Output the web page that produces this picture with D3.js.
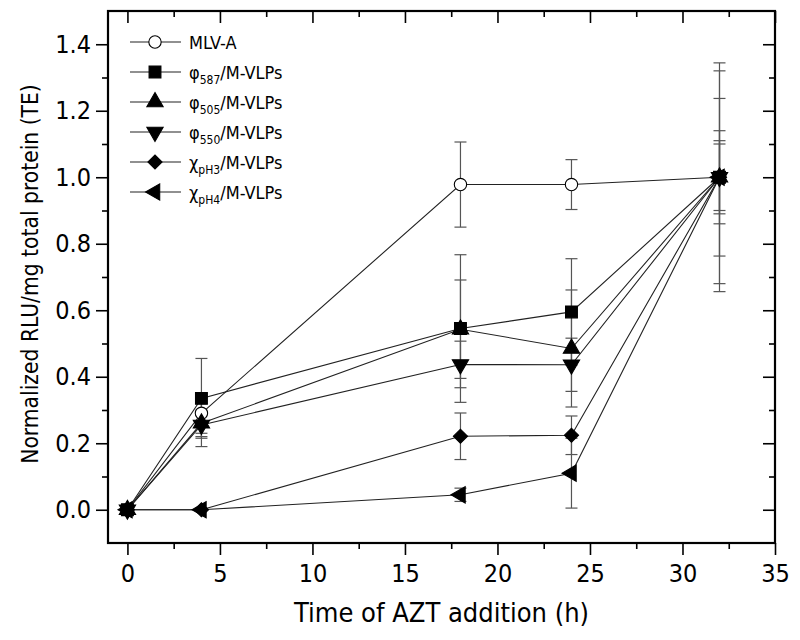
<!DOCTYPE html>
<html>
<head>
<meta charset="utf-8">
<script src="https://cdn.jsdelivr.net/npm/d3@7"></script>
<style>
  html, body { margin: 0; padding: 0; background: #fff; }
  svg { display: block; font-family: "DejaVu Sans Condensed", "DejaVu Sans", sans-serif; font-stretch: condensed; }
</style>
</head>
<body>
<svg id="chart" width="800" height="640"></svg>
<script>
// ---- data ----
const times = [0, 4, 18, 24, 32];
const xTicks = [0, 5, 10, 15, 20, 25, 30, 35];
const yTicks = [0, 0.2, 0.4, 0.6, 0.8, 1.0, 1.2, 1.4];

const mlvA      = [0, 0.290, 0.978, 0.978, 1.0];
const mlvAErr   = [0, 0.060, 0.128, 0.075, 0.344];
const phi587    = [0, 0.335, 0.545, 0.595, 1.0];
const phi587Err = [0, 0.120, 0.222, 0.160, 0.237];
const phi505    = [0, 0.260, 0.543, 0.485, 1.0];
const phi505Err = [0, 0.040, 0.148, 0.176, 0.320];
const phi550    = [0, 0.255, 0.437, 0.436, 1.0];
const phi550Err = [0, 0.065, 0.070, 0.080, 0.140];
const chiPH3    = [0, 0, 0.221, 0.224, 1.0];
const chiPH3Err = [0, 0, 0.070, 0.058, 0.110];
const chiPH4    = [0, 0, 0.045, 0.110, 1.0];
const chiPH4Err = [0, 0, 0.020, 0.105, 0.100];

const seriesSymbols = ["circle", "square", "triUp", "triDown", "diamond", "triLeft"];
const seriesLabels = [
  {base: "MLV-A", sub: "", rest: ""},
  {base: "φ", sub: "587", rest: "/M-VLPs"},
  {base: "φ", sub: "505", rest: "/M-VLPs"},
  {base: "φ", sub: "550", rest: "/M-VLPs"},
  {base: "χ", sub: "pH3", rest: "/M-VLPs"},
  {base: "χ", sub: "pH4", rest: "/M-VLPs"}
];
const seriesValues = [mlvA, phi587, phi505, phi550, chiPH3, chiPH4];
const seriesErrors = [mlvAErr, phi587Err, phi505Err, phi550Err, chiPH3Err, chiPH4Err];

// ---- layout ----
const FONT = '"DejaVu Sans Condensed", "DejaVu Sans", sans-serif';
const svg = d3.select("#chart");
const L = 108, R = 775, T = 11, B = 543;
const x = d3.scaleLinear().domain([-1.05, 35]).range([L, R]);
const y = d3.scaleLinear().domain([-0.1, 1.5]).range([B, T]);

const series = seriesValues.map((vals, i) => ({
  symbol: seriesSymbols[i],
  label: seriesLabels[i],
  points: times.map((t, j) => ({t, v: vals[j], e: seriesErrors[i][j]}))
}));

function symbolPath(kind) {
  switch (kind) {
    case "circle": return {d: d3.symbol(d3.symbolCircle, 120)(), rot: 0, fill: "#fff"};
    case "square": return {d: d3.symbol(d3.symbolSquare, 140)(), rot: 0, fill: "#000"};
    case "triUp": return {d: d3.symbol(d3.symbolTriangle, 115)(), rot: 0, fill: "#000"};
    case "triDown": return {d: d3.symbol(d3.symbolTriangle, 115)(), rot: 180, fill: "#000"};
    case "diamond": return {d: d3.symbol(d3.symbolSquare, 100)(), rot: 45, fill: "#000"};
    case "triLeft": return {d: d3.symbol(d3.symbolTriangle, 115)(), rot: -90, fill: "#000"};
  }
}

// ---- axes ----
const major = 12, minor = 6;
const xMinor = d3.range(2.5, 35, 5);
const yMinor = d3.range(0.1, 1.5, 0.2);

function styleAxis(g) {
  g.select(".domain").remove();
  g.selectAll(".tick line").attr("stroke", "#000").attr("stroke-width", 1.6);
  g.selectAll(".tick text").attr("fill", "#000").attr("font-size", 25)
    .attr("font-family", FONT).style("font-stretch", "condensed");
}

svg.append("g").attr("transform", `translate(0,${B})`)
  .call(d3.axisBottom(x).tickValues(xTicks).tickSize(major).tickPadding(9).tickFormat(d3.format("d")))
  .call(styleAxis);
svg.append("g").attr("transform", `translate(0,${B})`)
  .call(d3.axisBottom(x).tickValues(xMinor).tickSize(minor).tickFormat(""))
  .call(styleAxis);
svg.append("g").attr("transform", `translate(0,${T})`)
  .call(d3.axisTop(x).tickValues(xTicks).tickSize(-major).tickFormat(""))
  .call(styleAxis);
svg.append("g").attr("transform", `translate(0,${T})`)
  .call(d3.axisTop(x).tickValues(xMinor).tickSize(-minor).tickFormat(""))
  .call(styleAxis);

svg.append("g").attr("transform", `translate(${L},0)`)
  .call(d3.axisLeft(y).tickValues(yTicks).tickSize(major).tickPadding(5).tickFormat(d3.format(".1f")))
  .call(styleAxis);
svg.append("g").attr("transform", `translate(${L},0)`)
  .call(d3.axisLeft(y).tickValues(yMinor).tickSize(minor).tickFormat(""))
  .call(styleAxis);
svg.append("g").attr("transform", `translate(${R},0)`)
  .call(d3.axisRight(y).tickValues(yTicks).tickSize(-major).tickFormat(""))
  .call(styleAxis);
svg.append("g").attr("transform", `translate(${R},0)`)
  .call(d3.axisRight(y).tickValues(yMinor).tickSize(-minor).tickFormat(""))
  .call(styleAxis);

svg.append("rect").attr("x", L).attr("y", T).attr("width", R - L).attr("height", B - T)
  .attr("fill", "none").attr("stroke", "#000").attr("stroke-width", 2.2);

// axis titles
svg.append("text").attr("x", (L + R) / 2).attr("y", 622).attr("text-anchor", "middle")
  .attr("font-size", 27).attr("fill", "#000").text("Time of AZT addition (h)");
svg.append("text").attr("transform", `translate(38,274) rotate(-90)`)
  .attr("text-anchor", "middle").attr("font-size", 22.6).attr("fill", "#000")
  .text("Normalized RLU/mg total protein (TE)");

// ---- error bars ----
const cap = 6;
const eb = svg.append("g").attr("stroke", "#555").attr("stroke-width", 1.2).attr("fill", "none");
series.forEach(s => {
  s.points.filter(p => p.e > 0).forEach(p => {
    const cx = x(p.t), y1 = y(p.v + p.e), y0 = y(p.v - p.e);
    eb.append("line").attr("x1", cx).attr("x2", cx).attr("y1", y1).attr("y2", y0);
    eb.append("line").attr("x1", cx - cap).attr("x2", cx + cap).attr("y1", y1).attr("y2", y1);
    eb.append("line").attr("x1", cx - cap).attr("x2", cx + cap).attr("y1", y0).attr("y2", y0);
  });
});

// ---- lines ----
const line = d3.line().x(p => x(p.t)).y(p => y(p.v));
svg.append("g").selectAll("path").data(series).join("path")
  .attr("d", s => line(s.points)).attr("fill", "none")
  .attr("stroke", "#222").attr("stroke-width", 1.1);

// ---- markers ----
series.forEach(s => {
  const sp = symbolPath(s.symbol);
  svg.append("g").selectAll("path").data(s.points).join("path")
    .attr("d", sp.d)
    .attr("transform", p => `translate(${x(p.t)},${y(p.v)}) rotate(${sp.rot})`)
    .attr("fill", sp.fill).attr("stroke", "#000").attr("stroke-width", 1.1);
});

// ---- legend ----
const lg = svg.append("g");
series.forEach((s, i) => {
  const ly = 42 + i * 30;
  lg.append("line").attr("x1", 130).attr("x2", 181).attr("y1", ly).attr("y2", ly)
    .attr("stroke", "#222").attr("stroke-width", 1.1);
  const sp = symbolPath(s.symbol);
  lg.append("path").attr("d", sp.d)
    .attr("transform", `translate(155,${ly}) rotate(${sp.rot})`)
    .attr("fill", sp.fill).attr("stroke", "#000").attr("stroke-width", 1.1);
  const t = lg.append("text").attr("x", 189).attr("y", ly + 7).attr("font-size", 18).attr("fill", "#000");
  t.append("tspan").text(s.label.base);
  if (s.label.sub) {
    t.append("tspan").attr("dy", 5).attr("font-size", 12).text(s.label.sub);
    t.append("tspan").attr("dy", -5).text(s.label.rest);
  }
});
</script>
</body>
</html>
